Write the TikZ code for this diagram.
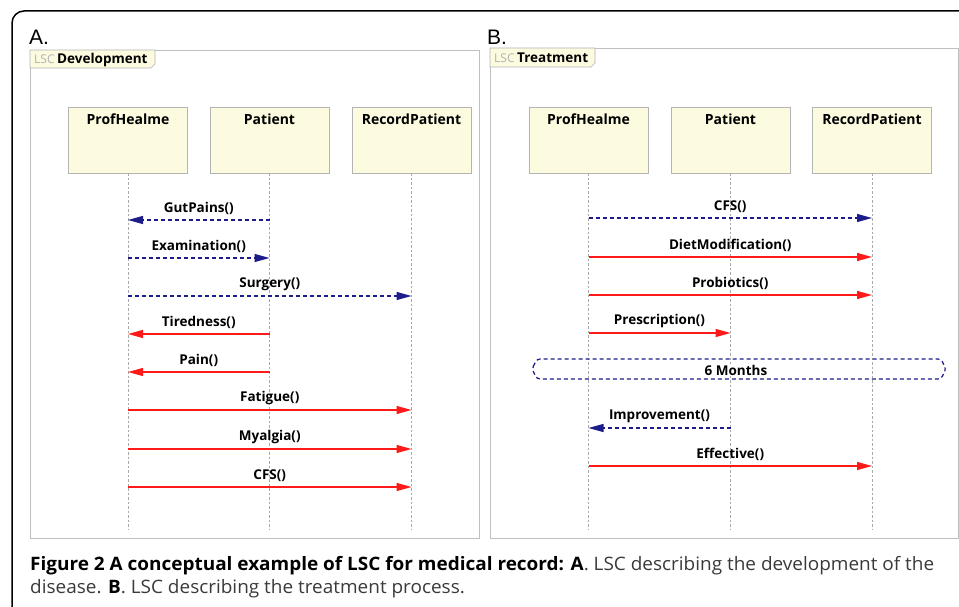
\documentclass[tikz,border=0pt]{standalone}
\usepackage{fontspec}
\setmainfont{Open Sans}
\newfontfamily\capfont[FakeStretch=1.025]{Open Sans}
\newfontfamily\letfont{Liberation Sans}
\usetikzlibrary{arrows.meta}
\definecolor{lscred}{HTML}{FF1A1A}
\definecolor{lscnavy}{HTML}{1C1C8A}
\definecolor{boxfill}{HTML}{FCFADF}
\definecolor{boxline}{HTML}{B4B4B4}
\definecolor{lifegrey}{HTML}{A8A8A8}
\definecolor{capgrey}{HTML}{3A3A3A}
\tikzset{
 actor/.style={draw=boxline, fill=boxfill, line width=0.8pt, minimum width=119pt, minimum height=66pt, inner sep=0pt},
 aname/.style={font=\bfseries\fontsize{14}{16}\selectfont, anchor=north, yshift=-7pt, inner sep=0pt},
 life/.style={draw=lifegrey, line width=0.6pt, dash pattern=on 2.5pt off 2pt},
 hot/.style={draw=lscred, line width=1.2pt, -{Triangle[length=15pt,width=8pt]}},
 cold/.style={draw=lscnavy, line width=1.2pt, dash pattern=on 4pt off 3pt, -{Triangle[length=15pt,width=8pt]}},
 lbl/.style={font=\bfseries\fontsize{13.5}{16}\selectfont, above, inner sep=0pt, yshift=5pt},
 panel/.style={draw=black!25, line width=0.8pt},
 tabst/.style={draw=boxline, fill=boxfill, line width=0.7pt},
 tabtxt/.style={anchor=base west, inner sep=0pt},
 letter/.style={anchor=base west, inner sep=0pt, font=\letfont\fontsize{21}{24}\selectfont},
 captxt/.style={anchor=base west, inner sep=0pt, text=capgrey, font=\capfont\fontsize{18.5}{22}\selectfont},
}
\begin{document}
\begin{tikzpicture}[x=1pt,y=-1pt]
\useasboundingbox (0,0) rectangle (959,607);
\fill[white] (0,0) rectangle (959,607);
% outer frame
\draw[line width=1.5pt, rounded corners=12pt] (12,612) -- (12,11) -- (965,11);
% panel letters
\node[letter] (letA) at (29,45) {A.};
\node[letter] (letB) at (487,45) {B.};
% panels
\draw[panel] (30,50) rectangle (479,538);
\draw[panel] (490,48) rectangle (958,538);
% tabs
\draw[tabst] (30,50) -- (155,50) -- (155,64) -- (151,68) -- (30,68) -- cycle;
\node[tabtxt] (tabA) at (34,64) {{\color{black!30}\fontsize{12}{14}\selectfont LSC} \bfseries\fontsize{13.5}{16}\selectfont Development};
\draw[tabst] (490,48) -- (595,48) -- (595,63) -- (591,67) -- (490,67) -- cycle;
\node[tabtxt] (tabB) at (494,63) {{\color{black!30}\fontsize{12}{14}\selectfont LSC} \bfseries\fontsize{13.5}{16}\selectfont Treatment};
% actors A
\node[actor] (aP) at (128,140) {};
\node[actor] (aT) at (269.5,140) {};
\node[actor] (aR) at (411.5,140) {};
\node[aname] (aPn) at (aP.north) {ProfHealme};
\node[aname] (aTn) at (aT.north) {Patient};
\node[aname] (aRn) at (aR.north) {RecordPatient};
% actors B
\node[actor] (bP) at (588.5,140) {};
\node[actor] (bT) at (730.5,140) {};
\node[actor] (bR) at (872,140) {};
\node[aname] (bPn) at (bP.north) {ProfHealme};
\node[aname] (bTn) at (bT.north) {Patient};
\node[aname] (bRn) at (bR.north) {RecordPatient};
% lifelines
\foreach \n in {aP,aT,aR,bP,bT,bR}{
  \coordinate (\n end) at (\n.south |- 0,530);
  \draw[life] (\n.south) -- (\n end);
}
% messages A
\draw[cold] (aT |- 0,220) -- node[lbl] (m1) {GutPains()} (aP |- 0,220);
\draw[cold] (aP |- 0,258) -- node[lbl] (m2) {Examination()} (aT |- 0,258);
\draw[cold] (aP |- 0,296) -- node[lbl] (m3) {Surgery()} (aR |- 0,296);
\draw[hot] (aT |- 0,334) -- node[lbl] (m4) {Tiredness()} (aP |- 0,334);
\draw[hot] (aT |- 0,372) -- node[lbl] (m5) {Pain()} (aP |- 0,372);
\draw[hot] (aP |- 0,410) -- node[lbl] (m6) {Fatigue()} (aR |- 0,410);
\draw[hot] (aP |- 0,449) -- node[lbl] (m7) {Myalgia()} (aR |- 0,449);
\draw[hot] (aP |- 0,487) -- node[lbl] (m8) {CFS()} (aR |- 0,487);
% messages B
\draw[cold] (bP |- 0,218) -- node[lbl] (n1) {CFS()} (bR |- 0,218);
\draw[hot] (bP |- 0,257) -- node[lbl] (n2) {DietModification()} (bR |- 0,257);
\draw[hot] (bP |- 0,295) -- node[lbl] (n3) {Probiotics()} (bR |- 0,295);
\draw[hot] (bP |- 0,333) -- node[lbl] (n4) {Prescription()} (bT |- 0,333);
\draw[draw=lscnavy, line width=1.2pt, dash pattern=on 4pt off 3pt, rounded corners=3pt]
  (532,369) -- (537,359) -- (941,359) -- (946,369) -- (941,379) -- (537,379) -- cycle;
\node[font=\bfseries\fontsize{13.5}{16}\selectfont, fill=white, inner sep=1pt] (six) at (736,370) {6 Months};
\draw[cold] (bT |- 0,428) -- node[lbl] (n5) {Improvement()} (bP |- 0,428);
\draw[hot] (bP |- 0,466) -- node[lbl] (n6) {Effective()} (bR |- 0,466);
% caption
\node[captxt] (cap1) at (30,570) {{\bfseries\color{black}Figure 2 A conceptual example of LSC for medical record: A}. LSC describing the development of the};
\node[captxt] (cap2) at (30,593) {disease. {\bfseries\color{black}B}. LSC describing the treatment process.};
\end{tikzpicture}
\end{document}
